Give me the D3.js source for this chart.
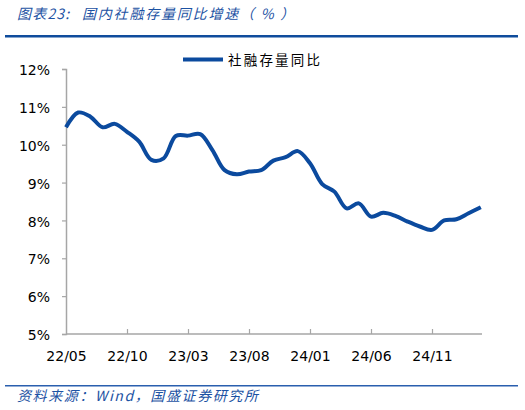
<!DOCTYPE html>
<html><head><meta charset="utf-8">
<script src="https://cdn.jsdelivr.net/npm/d3@7"></script>
<style>
html,body{margin:0;padding:0;background:#fff;}
svg{display:block;}
</style></head>
<body>
<svg id="c" width="525" height="410"></svg>
<script>
const months = ["22/05","22/06","22/07","22/08","22/09","22/10","22/11","22/12",
"23/01","23/02","23/03","23/04","23/05","23/06","23/07","23/08","23/09","23/10","23/11","23/12",
"24/01","24/02","24/03","24/04","24/05","24/06","24/07","24/08","24/09","24/10","24/11","24/12",
"25/01","25/02","25/03"];
const growth = [10.46,10.85,10.74,10.46,10.55,10.34,10.08,9.60,
9.64,10.23,10.24,10.28,9.86,9.33,9.22,9.29,9.33,9.58,9.67,9.83,
9.51,8.96,8.76,8.32,8.45,8.10,8.20,8.12,7.97,7.84,7.75,8.00,
8.03,8.19,8.35];
const xTickLabels = ["22/05","22/10","23/03","23/08","24/01","24/06","24/11"];
const yTicks = [5,6,7,8,9,10,11,12];
const seriesName = "社融存量同比";
const titleLabel = "图表23:";
const titleText = "国内社融存量同比增速（ % ）";
const sourceText = "资料来源：Wind，国盛证券研究所";

const svg = d3.select("#c");
const blue = "#0b4a9e";
const txtBlue = "#1c52a3";
const axisGray = "#a6a6a6";
const cjk = "'Noto Sans CJK SC', sans-serif";
const num = "'DejaVu Sans', sans-serif";

const x = d3.scalePoint().domain(months).range([66, 480.8]);
const y = d3.scaleLinear().domain([5, 12]).range([334, 69]);

// header
const title = svg.append("text").attr("y", 19)
  .attr("font-family", cjk).attr("font-size", 14).attr("font-style", "italic")
  .attr("fill", txtBlue);
title.append("tspan").attr("x", 17).attr("letter-spacing", 1.2).text(titleLabel);
title.append("tspan").attr("x", 82).attr("letter-spacing", 1.8).text(titleText);
svg.append("rect").attr("x", 5).attr("y", 35).attr("width", 513).attr("height", 2.5).attr("fill", "#0f4c9c");

// footer
svg.append("rect").attr("x", 5).attr("y", 385).attr("width", 513).attr("height", 1.5).attr("fill", "#2a5fae");
svg.append("text").attr("x", 17).attr("y", 401)
  .attr("font-family", cjk).attr("font-size", 14).attr("font-style", "italic")
  .attr("letter-spacing", 1.6).attr("fill", txtBlue).text(sourceText);

// y axis
const yAxis = d3.axisLeft(y).tickValues(yTicks).tickFormat(d => d + "%").tickSize(4).tickPadding(12);
const gy = svg.append("g").attr("transform", "translate(66,0)").call(yAxis);
gy.select(".domain").attr("stroke", axisGray).attr("stroke-width", 1.5);
gy.selectAll(".tick line").attr("stroke", axisGray).attr("stroke-width", 1.2);
gy.selectAll(".tick text").attr("font-family", num).attr("font-size", 14).attr("fill", "#000").attr("dy", "0.4em");

// x axis
const xAxis = d3.axisBottom(x).tickValues(xTickLabels).tickSize(-5).tickPadding(17).tickSizeOuter(0);
const gx = svg.append("g").attr("transform", "translate(0,334)").call(xAxis);
gx.select(".domain").attr("d", "M66,0H482").attr("stroke", axisGray).attr("stroke-width", 1.5);
gx.selectAll(".tick line").attr("stroke", axisGray).attr("stroke-width", 1.2);
gx.selectAll(".tick").filter(d => d === xTickLabels[0]).select("line").remove();
gx.selectAll(".tick text").attr("font-family", num).attr("font-size", 14).attr("fill", "#000");

// line
const line = d3.line().x((d, i) => x(months[i])).y(d => y(d)).curve(d3.curveCatmullRom.alpha(0.5));
svg.append("path").datum(growth).attr("d", line)
  .attr("fill", "none").attr("stroke", blue).attr("stroke-width", 4).attr("stroke-linejoin", "round");

// legend
svg.append("line").attr("x1", 183).attr("x2", 223).attr("y1", 59.5).attr("y2", 59.5)
  .attr("stroke", blue).attr("stroke-width", 4);
svg.append("text").attr("x", 228).attr("y", 64.5)
  .attr("font-family", cjk).attr("font-size", 13.5).attr("letter-spacing", 2.2)
  .attr("fill", "#000").text(seriesName);
</script>
</body></html>
